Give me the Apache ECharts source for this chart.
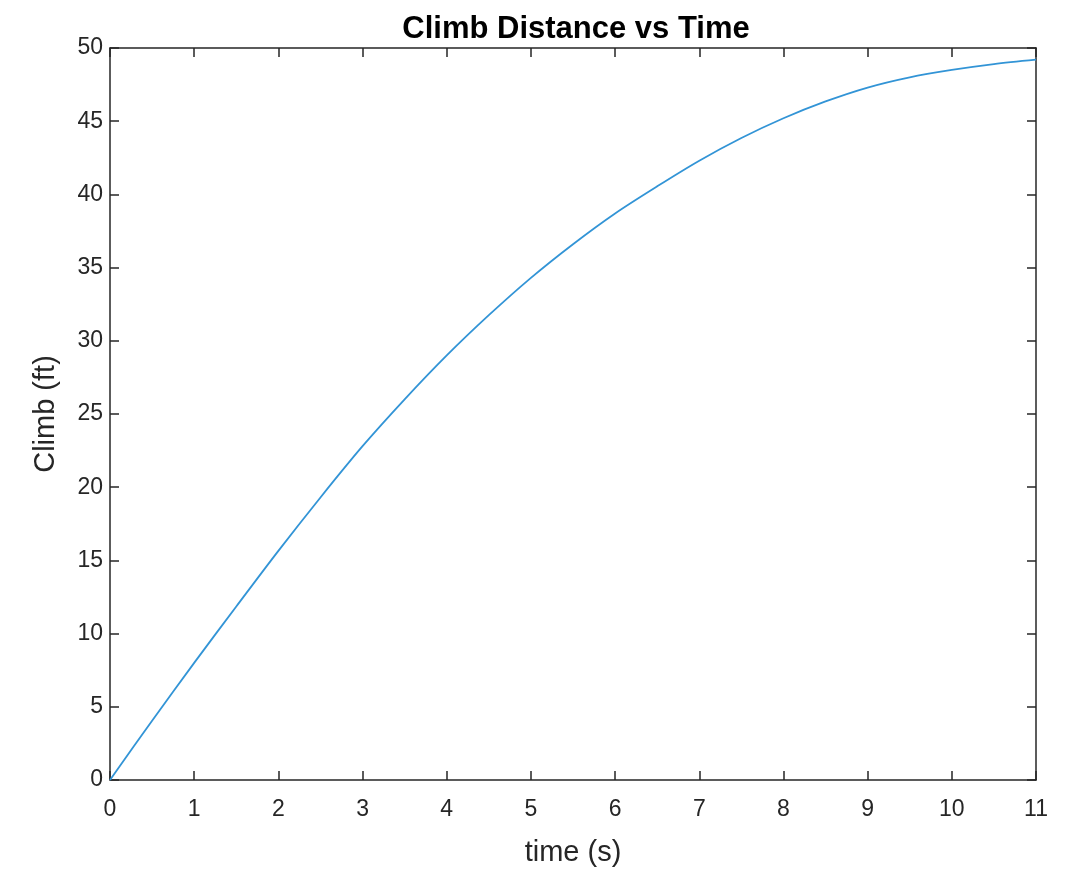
<!DOCTYPE html>
<html>
<head>
<meta charset="utf-8">
<title>Climb Distance vs Time</title>
<script src="https://cdn.jsdelivr.net/npm/echarts@6/dist/echarts.min.js"></script>
<style>
  html, body { margin: 0; padding: 0; background: #fff; }
  #chart { width: 1066px; height: 872px; }
</style>
</head>
<body>
<div id="chart"></div>
<script>
// time samples (s) and climb (ft)
const timeSec = [0, 0.5, 1, 1.5, 2, 2.5, 3, 3.5, 4, 4.5, 5, 5.5, 6, 6.5, 7, 7.5, 8, 8.5, 9, 9.5, 10, 10.5, 11];
const climbFt = [0, 4.05, 8.0, 11.85, 15.65, 19.3, 22.8, 26.0, 29.0, 31.75, 34.3, 36.6, 38.7, 40.55, 42.3, 43.85, 45.2, 46.35, 47.3, 48.0, 48.5, 48.9, 49.2];

const xTicks = { min: 0, max: 11, interval: 1 };
const yTicks = { min: 0, max: 50, interval: 5 };

const axisColor = '#262626';
const labelFont = 'Arial';

const chart = echarts.init(document.getElementById('chart'));

const baseAxis = function (range, show) {
  return {
    type: 'value',
    min: range.min,
    max: range.max,
    interval: range.interval,
    axisLine: { show: true, onZero: false, lineStyle: { color: axisColor, width: 1.5 } },
    axisTick: { show: true, inside: true, length: 9, lineStyle: { color: axisColor, width: 1.5 } },
    splitLine: { show: false },
    axisLabel: {
      show: show,
      color: axisColor,
      fontSize: 23,
      fontFamily: labelFont
    }
  };
};

const xBottom = Object.assign(baseAxis(xTicks, true), {
  position: 'bottom',
  name: 'time (s)',
  nameLocation: 'middle',
  nameGap: 58,
  nameTextStyle: { color: axisColor, fontSize: 29, fontFamily: labelFont }
});
xBottom.axisLabel.margin = 18;

const xTop = Object.assign(baseAxis(xTicks, false), { position: 'top' });

const yLeft = Object.assign(baseAxis(yTicks, true), {
  position: 'left',
  name: 'Climb (ft)',
  nameLocation: 'middle',
  nameGap: 50,
  nameTextStyle: { color: axisColor, fontSize: 29, fontFamily: labelFont }
});
yLeft.axisLabel.margin = 7;

const yRight = Object.assign(baseAxis(yTicks, false), { position: 'right' });

chart.setOption({
  backgroundColor: '#ffffff',
  animation: false,
  title: {
    text: 'Climb Distance vs Time',
    left: 571,
    textAlign: 'center',
    top: 9,
    textStyle: { color: '#000', fontSize: 31, fontWeight: 'bold', fontFamily: labelFont }
  },
  grid: { left: 110, right: 30, top: 48, bottom: 92, containLabel: false },
  xAxis: [xBottom, xTop],
  yAxis: [yLeft, yRight],
  series: [{
    type: 'line',
    data: timeSec.map((t, i) => [t, climbFt[i]]),
    smooth: 0.3,
    showSymbol: false,
    lineStyle: { color: '#3294d6', width: 1.8 },
    xAxisIndex: 0,
    yAxisIndex: 0
  }]
});
</script>
</body>
</html>
